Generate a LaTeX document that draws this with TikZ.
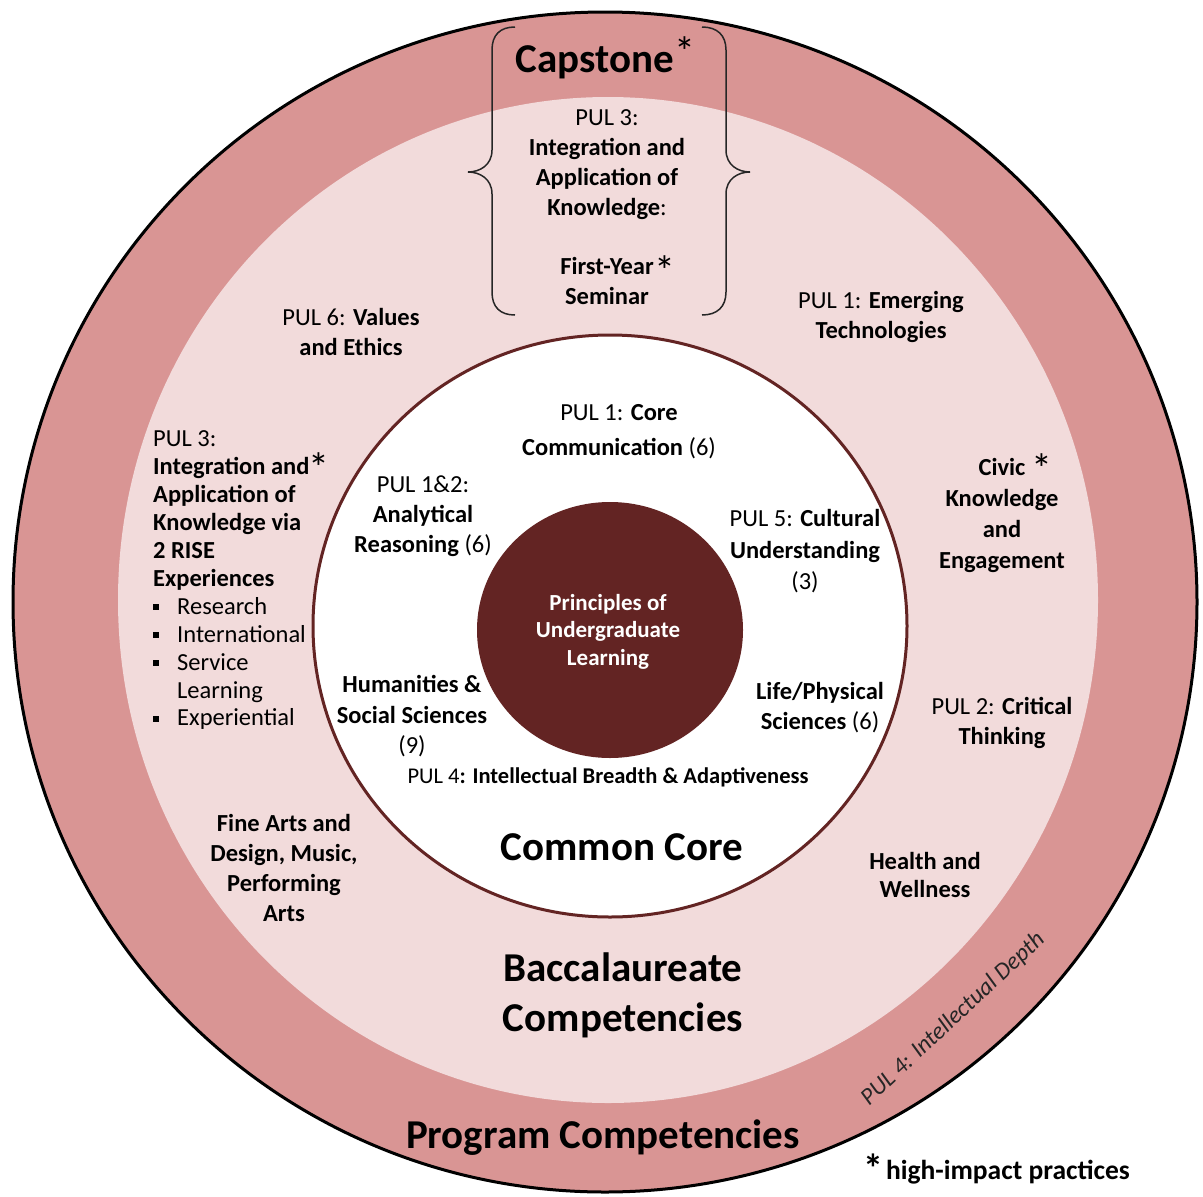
\documentclass[tikz,border=0pt]{standalone}
\usepackage{fontspec}
\setmainfont{Carlito}
\definecolor{ringred}{HTML}{D99594}
\definecolor{lightpink}{HTML}{F2DBDB}
\definecolor{darkred}{HTML}{632423}
\begin{document}
\begin{tikzpicture}[x=1pt,y=-1pt,
  txt/.style={font=\fontsize{24.5}{30}\selectfont, align=center, inner sep=0pt},
  bigtxt/.style={font=\fontsize{41}{50}\selectfont\bfseries, align=center, inner sep=0pt},
  startxt/.style={font=\fontsize{42}{42}\selectfont, inner sep=0pt},
  bracepath/.style={line width=1.5pt, draw=black!85}
]
\useasboundingbox (0,0) rectangle (1203,1197);
\fill[white] (0,0) rectangle (1203,1197);
% rings
\draw[line width=3pt, fill=ringred] (605,602) ellipse [x radius=592, y radius=590];
\fill[lightpink] (608,600) ellipse [x radius=490, y radius=503];
\draw[line width=3pt, draw=darkred, fill=white] (610,626) ellipse [x radius=297, y radius=291];
\fill[darkred] (610,630) ellipse [x radius=133, y radius=128];
% braces
\draw[bracepath] (515,27) .. controls (500,27) and (492,35) .. (492,50) -- (492,150) .. controls (492,165) and (480,172) .. (468,172) .. controls (480,172) and (492,179) .. (492,194) -- (492,292) .. controls (492,307) and (500,315) .. (515,315);
\draw[bracepath] (702,27) .. controls (717,27) and (726,35) .. (726,50) -- (726,150) .. controls (726,165) and (738,172) .. (750,172) .. controls (738,172) and (726,179) .. (726,194) -- (726,292) .. controls (726,307) and (717,315) .. (702,315);
% top
\node[bigtxt] (capstone) at (595,62) {Capstone};
\node[startxt] (capstar) at (685,52) {*};
\node[txt] (pul3top) at (607,164.5) {PUL 3:\\\textbf{Integration and}\\\textbf{Application of}\\\textbf{Knowledge}:};
\node[txt] (fys) at (607,281) {\textbf{First-Year}\\\textbf{Seminar}};
\node[startxt] (fysstar) at (665,271) {*};
% baccalaureate ring
\node[txt] (pul6) at (351,331.5) {PUL 6: \textbf{Values}\\\textbf{and Ethics}};
\node[txt] (pul1e) at (881,317) {PUL 1: \textbf{Emerging}\\\textbf{Technologies}};
\node[txt, align=left, anchor=west, font=\fontsize{24.5}{27.9}\selectfont] (pul3left) at (153,580.5) {PUL 3:\\\textbf{Integration and}\\\textbf{Application of}\\\textbf{Knowledge via}\\\textbf{2 RISE}\\\textbf{Experiences}\\
\makebox[24pt][l]{\rule[4pt]{6pt}{6pt}}Research\\
\makebox[24pt][l]{\rule[4pt]{6pt}{6pt}}International\\
\makebox[24pt][l]{\rule[4pt]{6pt}{6pt}}Service\\
\makebox[24pt][l]{}Learning\\
\makebox[24pt][l]{\rule[4pt]{6pt}{6pt}}Experiential};
\node[startxt] (leftstar) at (319,468) {*};
\node[txt, font=\fontsize{24.5}{31}\selectfont] (civic) at (1002,515.5) {\textbf{Civic}\\\textbf{Knowledge}\\\textbf{and}\\\textbf{Engagement}};
\node[startxt] (civicstar) at (1042,469) {*};
\node[txt] (pul2) at (1002,722.5) {PUL 2: \textbf{Critical}\\\textbf{Thinking}};
\node[txt] (finearts) at (284,868) {\textbf{Fine Arts and}\\\textbf{Design, Music,}\\\textbf{Performing}\\\textbf{Arts}};
\node[txt, font=\fontsize{24.5}{28}\selectfont] (health) at (925,875) {\textbf{Health and}\\\textbf{Wellness}};
\node[bigtxt] (bacc) at (623,995) {Baccalaureate\\Competencies};
% common core
\node[txt, font=\fontsize{24.5}{35}\selectfont] (pul1c) at (619,431.5) {PUL 1: \textbf{Core}\\\textbf{Communication} (6)};
\node[txt] (pul12) at (423,516) {PUL 1\&2:\\\textbf{Analytical}\\\textbf{Reasoning} (6)};
\node[txt, font=\fontsize{24.5}{31.5}\selectfont] (pul5) at (805,551.5) {PUL 5: \textbf{Cultural}\\\textbf{Understanding}\\(3)};
\node[txt, font=\fontsize{24.5}{30.5}\selectfont] (hum) at (412,716.5) {\textbf{Humanities \&}\\\textbf{Social Sciences}\\(9)};
\node[txt] (life) at (820,708) {\textbf{Life/Physical}\\\textbf{Sciences} (6)};
\node[txt, font=\fontsize{22.5}{26}\selectfont] (pul4b) at (608,777) {PUL 4\textbf{: Intellectual Breadth \& Adaptiveness}};
\node[txt, font=\fontsize{23}{27.5}\selectfont\bfseries, text=white] (pul) at (608,631.5) {Principles of\\Undergraduate\\Learning};
\node[bigtxt] (core) at (622,847) {Common Core};
% program ring
\node[txt, font=\fontsize{41}{50}\selectfont\bfseries] (prog) at (603,1138) {Program Competencies};
\node[txt, font=\fontsize{24}{28}\selectfont\itshape, text=black!85, rotate=43] (pul4d) at (953,1019) {PUL 4: Intellectual Depth};
% legend
\node[txt, font=\fontsize{27.5}{30}\selectfont\bfseries] (hip) at (1008,1172) {high-impact practices};
\node[startxt, font=\fontsize{40}{40}\selectfont\bfseries] (hipstar) at (873,1168) {*};
\end{tikzpicture}
\end{document}
